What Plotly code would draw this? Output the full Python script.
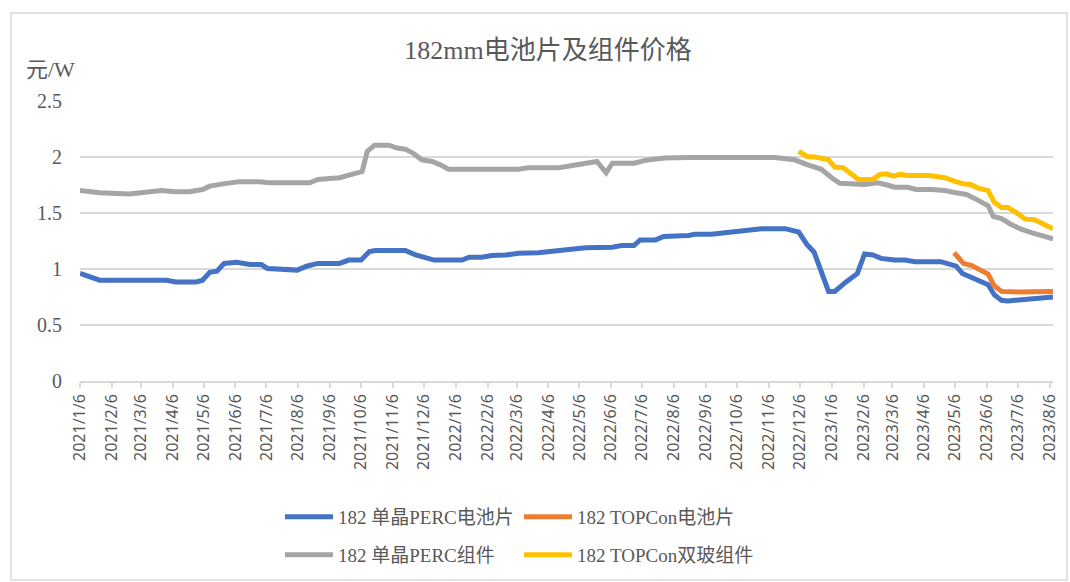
import plotly.graph_objects as go

# ---------------- data ----------------
perc_cell_dates = ["2021-01-06","2021-01-25","2021-03-31","2021-04-09","2021-04-29","2021-05-05","2021-05-12",
    "2021-05-19","2021-05-26","2021-06-07","2021-06-20","2021-07-01","2021-07-07","2021-07-19","2021-07-26",
    "2021-08-05","2021-08-14","2021-08-25","2021-09-15","2021-09-24","2021-10-06","2021-10-14","2021-10-20",
    "2021-11-18","2021-11-28","2021-12-08","2021-12-16","2022-01-12","2022-01-19","2022-01-31","2022-02-10",
    "2022-02-23","2022-03-08","2022-03-27","2022-04-13","2022-04-22","2022-05-05","2022-05-12","2022-06-07",
    "2022-06-16","2022-06-28","2022-07-04","2022-07-19","2022-07-27","2022-08-20","2022-08-26","2022-09-11",
    "2022-09-28","2022-10-14","2022-10-30","2022-11-22","2022-12-05","2022-12-13","2022-12-20","2023-01-03",
    "2023-01-09","2023-01-20","2023-01-31","2023-02-07","2023-02-15","2023-02-23","2023-03-08","2023-03-18",
    "2023-03-28","2023-04-22","2023-05-02","2023-05-07","2023-05-13","2023-05-28","2023-06-07","2023-06-13",
    "2023-06-20","2023-06-26","2023-07-12","2023-07-25","2023-08-09"]
perc_cell = [0.96,0.90,0.90,0.885,0.885,0.90,0.97,
    0.98,1.05,1.06,1.04,1.04,1.005,1.00,0.99,
    0.99,1.025,1.05,1.05,1.08,1.08,1.155,1.165,
    1.165,1.125,1.10,1.08,1.08,1.105,1.105,1.12,
    1.125,1.14,1.145,1.16,1.17,1.175,1.19,1.195,
    1.21,1.21,1.26,1.26,1.29,1.30,1.31,1.31,
    1.33,1.35,1.36,1.36,1.33,1.22,1.15,0.80,
    0.80,0.885,0.96,1.135,1.125,1.095,1.08,1.08,
    1.065,1.065,1.045,1.025,0.96,0.90,0.86,0.77,
    0.72,0.715,0.73,0.74,0.75]

topcon_cell_dates = ["2023-05-05","2023-05-14","2023-05-22","2023-06-07","2023-06-13","2023-06-20",
    "2023-07-06","2023-07-19","2023-08-09"]
topcon_cell = [1.145,1.05,1.03,0.955,0.85,0.80,0.795,0.80,0.80]

perc_module_dates = ["2021-01-06","2021-01-25","2021-02-23","2021-03-15","2021-03-26","2021-04-09","2021-04-22",
    "2021-05-05","2021-05-12","2021-05-25","2021-06-10","2021-06-29","2021-07-09","2021-08-17","2021-08-25",
    "2021-09-15","2021-10-01","2021-10-07","2021-10-12","2021-10-19","2021-11-02","2021-11-10","2021-11-18",
    "2021-11-26","2021-12-04","2021-12-14","2021-12-22","2021-12-30","2022-03-08","2022-03-18","2022-04-16",
    "2022-04-29","2022-05-15","2022-05-23","2022-06-01","2022-06-07","2022-06-28","2022-07-09","2022-07-28",
    "2022-08-20","2022-11-12","2022-12-01","2022-12-14","2022-12-27","2023-01-06","2023-01-14","2023-02-07",
    "2023-02-20","2023-03-01","2023-03-08","2023-03-21","2023-03-29","2023-04-13","2023-04-26","2023-05-07",
    "2023-05-17","2023-05-28","2023-06-07","2023-06-12","2023-06-20","2023-06-29","2023-07-09","2023-07-19",
    "2023-07-28","2023-08-09"]
perc_module = [1.70,1.68,1.67,1.685,1.70,1.69,1.69,
    1.71,1.74,1.76,1.78,1.78,1.77,1.77,1.80,
    1.815,1.86,1.87,2.05,2.105,2.105,2.08,2.07,
    2.03,1.975,1.96,1.93,1.89,1.89,1.905,1.905,
    1.925,1.95,1.96,1.86,1.945,1.945,1.97,1.99,
    1.995,1.995,1.975,1.93,1.89,1.815,1.765,1.755,
    1.77,1.75,1.73,1.73,1.71,1.71,1.70,1.68,
    1.665,1.615,1.565,1.47,1.45,1.40,1.355,1.325,
    1.30,1.27]

topcon_module_dates = ["2022-12-05","2022-12-13","2022-12-21","2023-01-03","2023-01-09","2023-01-17",
    "2023-01-25","2023-02-01","2023-02-15","2023-02-22","2023-02-28","2023-03-07","2023-03-13","2023-03-21",
    "2023-04-11","2023-04-19","2023-04-26","2023-05-05","2023-05-14","2023-05-21","2023-05-29","2023-06-07",
    "2023-06-13","2023-06-20","2023-06-26","2023-07-04","2023-07-13","2023-07-22","2023-07-30","2023-08-09"]
topcon_module = [2.05,2.005,2.0,1.975,1.91,1.905,
    1.85,1.80,1.80,1.845,1.85,1.83,1.845,1.835,
    1.835,1.82,1.815,1.785,1.76,1.755,1.72,1.70,
    1.595,1.55,1.55,1.505,1.445,1.44,1.40,1.36]

tick_dates = ["2021-01-06","2021-02-06","2021-03-06","2021-04-06","2021-05-06","2021-06-06","2021-07-06",
    "2021-08-06","2021-09-06","2021-10-06","2021-11-06","2021-12-06","2022-01-06","2022-02-06","2022-03-06",
    "2022-04-06","2022-05-06","2022-06-06","2022-07-06","2022-08-06","2022-09-06","2022-10-06","2022-11-06",
    "2022-12-06","2023-01-06","2023-02-06","2023-03-06","2023-04-06","2023-05-06","2023-06-06","2023-07-06",
    "2023-08-06"]
tick_text = ["2021/1/6","2021/2/6","2021/3/6","2021/4/6","2021/5/6","2021/6/6","2021/7/6",
    "2021/8/6","2021/9/6","2021/10/6","2021/11/6","2021/12/6","2022/1/6","2022/2/6","2022/3/6",
    "2022/4/6","2022/5/6","2022/6/6","2022/7/6","2022/8/6","2022/9/6","2022/10/6","2022/11/6",
    "2022/12/6","2023/1/6","2023/2/6","2023/3/6","2023/4/6","2023/5/6","2023/6/6","2023/7/6",
    "2023/8/6"]

names = ["182 单晶PERC电池片", "182 TOPCon电池片", "182 单晶PERC组件", "182 TOPCon双玻组件"]
colors = ["#4472C4", "#ED7D31", "#A5A5A5", "#FFC000"]

# ---------------- figure ----------------
W, H = 1070, 582
L, R, T, B = 80, 17, 101, 201
pw, ph = W - L - R, H - T - B

SERIF = "Liberation Serif, Times New Roman, Noto Sans CJK SC, serif"
SANS = "Noto Sans, DejaVu Sans, sans-serif"
GRAY_TXT = "#595959"

fig = go.Figure()
series = [(perc_cell_dates, perc_cell, "legend"), (topcon_cell_dates, topcon_cell, "legend"),
          (perc_module_dates, perc_module, "legend2"), (topcon_module_dates, topcon_module, "legend2")]
for (d, v, lg), name, c in zip(series, names, colors):
    fig.add_trace(go.Scatter(x=d, y=v, name=name, mode="lines", legend=lg,
                             line=dict(color=c, width=5)))

def px_x(x):
    return (x - L) / pw

def px_y(y):
    return (H - B - y) / ph

legend_common = dict(orientation="h", xanchor="left", yanchor="middle", entrywidth=176,
                     entrywidthmode="pixels", itemwidth=48, bgcolor="rgba(0,0,0,0)",
                     font=dict(family=SERIF, size=19, color=GRAY_TXT), tracegroupgap=0)

fig.update_layout(
    width=W, height=H,
    margin=dict(l=L, r=R, t=T, b=B, autoexpand=False),
    paper_bgcolor="white", plot_bgcolor="white",
    title=dict(text="182mm电池片及组件价格", xref="paper", x=px_x(548), xanchor="center",
               yref="container", y=1 - 50 / H, yanchor="middle",
               font=dict(family=SERIF, size=26, color=GRAY_TXT)),
    legend=dict(x=px_x(280), y=px_y(517), **legend_common),
    legend2=dict(x=px_x(280), y=px_y(555), **legend_common),
    xaxis=dict(type="date", range=["2021-01-06", "2023-08-09"], tickvals=tick_dates, ticktext=tick_text,
               tickangle=-90, tickfont=dict(family=SANS, size=16, color=GRAY_TXT),
               showgrid=False, showline=True, linecolor="#d9d9d9", linewidth=1.5,
               ticks="outside", ticklen=5, tickcolor="#d9d9d9", tickwidth=1.5, zeroline=False),
    yaxis=dict(range=[0, 2.5], dtick=0.5, tick0=0, showgrid=True, gridcolor="#d9d9d9", gridwidth=1.5,
               zeroline=False, showline=False, ticklabelstandoff=17,
               tickfont=dict(family=SERIF, size=20, color=GRAY_TXT)),
    annotations=[dict(text="元/W", xref="paper", yref="paper", x=px_x(24), y=px_y(70),
                      xanchor="left", yanchor="middle", showarrow=False,
                      font=dict(family=SERIF, size=22, color=GRAY_TXT))],
    shapes=[dict(type="rect", xref="paper", yref="paper", x0=px_x(11), x1=px_x(1067),
                 y0=px_y(580), y1=px_y(13), line=dict(color="#d9d9d9", width=1.5),
                 fillcolor="rgba(0,0,0,0)", layer="below")],
    showlegend=True,
)

fig.write_html("out.html", config={"displayModeBar": False},
               post_script="document.body.style.margin='0px';document.body.style.overflow='hidden';")
